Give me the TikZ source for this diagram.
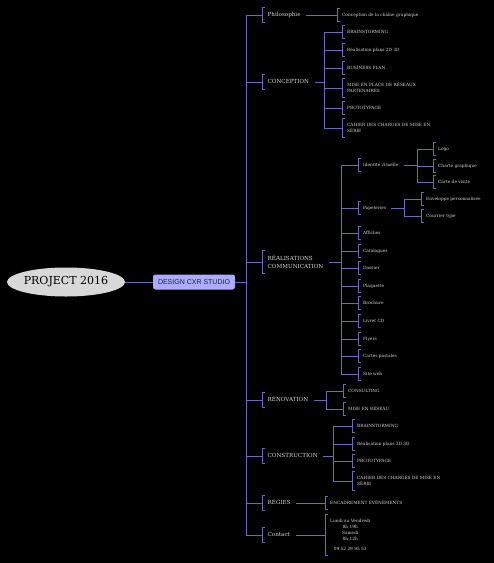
\documentclass[tikz,border=0pt]{standalone}
\usepackage{fontspec}
\setmainfont{DejaVu Serif}
\newfontfamily\boxfont{Liberation Sans}
\usetikzlibrary{shapes.geometric}
\definecolor{lnc}{RGB}{108,108,178}
\definecolor{txc}{RGB}{218,218,218}
\definecolor{boxc}{RGB}{172,172,250}
\definecolor{boxt}{RGB}{30,30,70}
\definecolor{rootc}{RGB}{216,216,216}
\begin{document}
\begin{tikzpicture}[x=1pt,y=-1pt,
  lone/.style={anchor=west, text=txc, font=\fontsize{5.6}{8}\selectfont, inner xsep=5.5pt, inner ysep=4.6pt},
  ltwo/.style={anchor=west, text=txc, font=\fontsize{4.3}{6}\selectfont, inner xsep=5pt, inner ysep=4.5pt},
  sone/.style={text height=4.2pt, text depth=1.2pt},
  stwo/.style={text height=3.2pt, text depth=0.9pt},
  multi/.style={align=left},
  ln/.style={draw=lnc, line width=0.85pt},
  brk/.style={draw=lnc, line width=0.85pt}]
\fill[black] (0,0) rectangle (494,563);
\useasboundingbox (0,0) rectangle (494,563);

% root and box
\node[ellipse, fill=rootc, minimum width=118pt, minimum height=29pt, inner sep=0pt, font=\fontsize{11}{13}\selectfont] (root) at (66,282) {\makebox[0pt]{PROJECT 2016}};
\node[rectangle, rounded corners=2.5pt, fill=boxc, text=boxt, minimum width=82pt, minimum height=15pt, inner sep=0pt, font=\boxfont\fontsize{7}{8}\selectfont] (box) at (194,282) {DESIGN CXR STUDIO};
\draw[ln] (root.east) -- (box.west);

% level 1
\node[lone,sone] (phil) at (262,15) {Philosophie};
\node[lone,sone] (conc) at (262,82) {CONCEPTION};
\node[lone,multi] (real) at (262,262) {RÉALISATIONS\\COMMUNICATION};
\node[lone,sone] (reno) at (262,400) {RÉNOVATION};
\node[lone,sone] (cons) at (262,456) {CONSTRUCTION};
\node[lone,sone] (regi) at (262,503) {RÉGIES};
\node[lone,sone] (cont) at (262,535) {Contact};

\coordinate (tmain) at (246,282);
\foreach \n in {phil,conc,real,reno,cons,regi,cont}
  \draw[ln] (box.east) -- (tmain) |- (\n.west);

% Philosophie
\node[ltwo,stwo] (ph1) at (337,15) {Conception de la chaîne graphique};
\draw[ln] (phil.east) -- (ph1.west);

% CONCEPTION
\node[ltwo,stwo] (co1) at (342,32) {BRAINSTORMING};
\node[ltwo,stwo] (co2) at (342,50) {Réalisation plans 2D 3D};
\node[ltwo,stwo] (co3) at (342,68) {BUSINESS PLAN};
\node[ltwo,multi] (co4) at (342,88) {MISE EN PLACE DE RÉSEAUX\\PARTENAIRES};
\node[ltwo,stwo] (co5) at (342,108) {PROTOTYPAGE};
\node[ltwo,multi] (co6) at (342,128) {CAHIER DES CHARGES DE MISE EN\\SÉRIE};
\coordinate (tconc) at (324,82);
\foreach \n in {co1,co2,co3,co4,co5,co6}
  \draw[ln] (conc.east) -- (tconc) |- (\n.west);

% REALISATIONS
\node[ltwo,stwo] (re1) at (358,165) {Identité visuelle};
\node[ltwo,stwo] (re2) at (358,208) {Papeteries};
\node[ltwo,stwo] (re3) at (358,233) {Affiches};
\node[ltwo,stwo] (re4) at (358,251) {Catalogues};
\node[ltwo,stwo] (re5) at (358,268) {Dossier};
\node[ltwo,stwo] (re6) at (358,286) {Plaquette};
\node[ltwo,stwo] (re7) at (358,303) {Brochure};
\node[ltwo,stwo] (re8) at (358,321) {Livret CD};
\node[ltwo,stwo] (re9) at (358,339) {Flyers};
\node[ltwo,stwo] (re10) at (358,356) {Cartes postales};
\node[ltwo,stwo] (re11) at (358,374) {Site web};
\coordinate (treal) at (341,262);
\foreach \n in {re1,re2,re3,re4,re5,re6,re7,re8,re9,re10,re11}
  \draw[ln] (real.east) -- (treal) |- (\n.west);

% Identite visuelle
\node[ltwo,stwo] (iv1) at (433,149) {Logo};
\node[ltwo,stwo] (iv2) at (433,166) {Charte graphique};
\node[ltwo,stwo] (iv3) at (433,182) {Carte de visite};
\coordinate (tiv) at (417,165);
\foreach \n in {iv1,iv2,iv3}
  \draw[ln] (re1.east) -- (tiv) |- (\n.west);

% Papeteries
\node[ltwo,stwo] (pa1) at (421,199) {Enveloppe personnalisée};
\node[ltwo,stwo] (pa2) at (421,216) {Courrier type};
\coordinate (tpa) at (404,208);
\foreach \n in {pa1,pa2}
  \draw[ln] (re2.east) -- (tpa) |- (\n.west);

% RENOVATION
\node[ltwo,stwo] (rn1) at (343,391) {CONSULTING};
\node[ltwo,stwo] (rn2) at (343,409) {MISE EN RÉSEAU};
\coordinate (treno) at (326,400);
\foreach \n in {rn1,rn2}
  \draw[ln] (reno.east) -- (treno) |- (\n.west);

% CONSTRUCTION
\node[ltwo,stwo] (cs1) at (352,426) {BRAINSTORMING};
\node[ltwo,stwo] (cs2) at (352,444) {Réalisation plans 2D 3D};
\node[ltwo,stwo] (cs3) at (352,461) {PROTOTYPAGE};
\node[ltwo,multi] (cs4) at (352,481) {CAHIER DES CHARGES DE MISE EN\\SÉRIE};
\coordinate (tcons) at (333,456);
\foreach \n in {cs1,cs2,cs3,cs4}
  \draw[ln] (cons.east) -- (tcons) |- (\n.west);

% REGIES
\node[ltwo,stwo] (rg1) at (325,503) {ENCADREMENT ÉVÉNEMENTS};
\draw[ln] (regi.east) -- (rg1.west);

% Contact
\node[ltwo,align=center] (ct1) at (325,535) {Lundi au Vendredi\\8h 19h\\Samedi\\8h 12h\\[4pt]09 52 29 95 53};
\draw[ln] (cont.east) -- (ct1.west);

% brackets
\foreach \n in {phil,conc,real,reno,cons,regi,cont,ph1,co1,co2,co3,co4,co5,co6,re1,re2,re3,re4,re5,re6,re7,re8,re9,re10,re11,iv1,iv2,iv3,pa1,pa2,rn1,rn2,cs1,cs2,cs3,cs4,rg1,ct1}
  \draw[brk] ([xshift=3pt]\n.north west) -- (\n.north west) -- (\n.south west) -- ([xshift=3pt]\n.south west);
\end{tikzpicture}
\end{document}
